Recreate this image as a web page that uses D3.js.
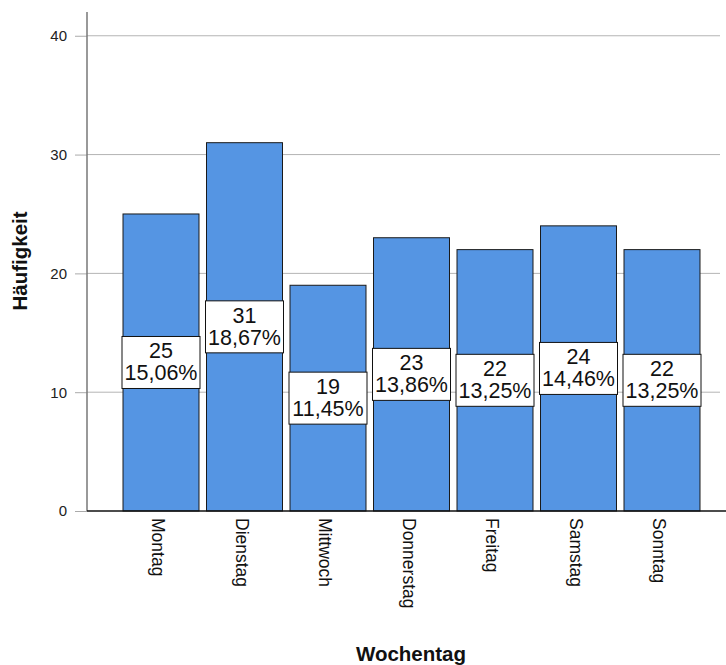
<!DOCTYPE html>
<html>
<head>
<meta charset="utf-8">
<script src="https://cdn.jsdelivr.net/npm/d3@7"></script>
<style>
  body { margin: 0; background: #fff; }
  text { font-family: Arial, "Liberation Sans", sans-serif; }
</style>
</head>
<body>
<svg id="chart" width="726" height="665"></svg>
<script>
// Weekday frequencies
const days = ["Montag", "Dienstag", "Mittwoch", "Donnerstag", "Freitag", "Samstag", "Sonntag"];
const counts = [25, 31, 19, 23, 22, 24, 22];
const percents = ["15,06%", "18,67%", "11,45%", "13,86%", "13,25%", "14,46%", "13,25%"];
const yTicks = [0, 10, 20, 30, 40];

const svg = d3.select("#chart");
const plot = { left: 87, right: 726, top: 12, bottom: 511 };

const x = d3.scaleBand().domain(days).range([119.25, 703.75]).paddingInner(0.09).paddingOuter(0.045);
const y = d3.scaleLinear().domain([0, 42]).range([plot.bottom, plot.top]);

// gridlines
svg.append("g").selectAll("line").data(yTicks.filter(d => d > 0)).join("line")
  .attr("x1", plot.left).attr("x2", 720)
  .attr("y1", d => y(d)).attr("y2", d => y(d))
  .attr("stroke", "#b4b4b4").attr("stroke-width", 1);

// y axis
const yAxis = d3.axisLeft(y).tickValues(yTicks).tickSize(12).tickPadding(8);
const gy = svg.append("g").attr("transform", `translate(${plot.left},0)`).call(yAxis);
gy.select(".domain").remove();
gy.selectAll(".tick line").attr("stroke", "#aaaaaa");
gy.selectAll(".tick text").attr("font-size", 15).attr("fill", "#222")
  .attr("font-family", "Arial, 'Liberation Sans', sans-serif");
svg.append("line").attr("x1", plot.left).attr("x2", plot.left).attr("y1", plot.top).attr("y2", plot.bottom)
  .attr("stroke", "#777").attr("stroke-width", 1.5);

// bars
svg.append("g").selectAll("rect").data(days).join("rect")
  .attr("x", d => x(d)).attr("width", x.bandwidth())
  .attr("y", (d, i) => y(counts[i])).attr("height", (d, i) => y(0) - y(counts[i]))
  .attr("fill", "#5595e3").attr("stroke", "#1a1a1a").attr("stroke-width", 1);

// x axis line
svg.append("line").attr("x1", plot.left).attr("x2", plot.right).attr("y1", plot.bottom).attr("y2", plot.bottom)
  .attr("stroke", "#111").attr("stroke-width", 1.5);

// x category labels, rotated to read downward
const xAxis = d3.axisBottom(x).tickSize(0).tickPadding(0);
const gx = svg.append("g").attr("transform", `translate(0,${plot.bottom})`).call(xAxis);
gx.select(".domain").remove();
gx.selectAll(".tick text")
  .attr("font-size", 17.5).attr("fill", "#111")
  .attr("font-family", "Arial, 'Liberation Sans', sans-serif")
  .attr("text-anchor", "start")
  .attr("dy", null)
  .attr("transform", "translate(0,7) rotate(90)")
  .attr("x", 0).attr("y", 9);

// value labels: count and percentage
const lab = svg.append("g").selectAll("g").data(days).join("g")
  .attr("transform", (d, i) => `translate(${x(d) + x.bandwidth() / 2},${y(counts[i] / 2)})`);
lab.append("rect").attr("x", -39).attr("y", -26).attr("width", 78).attr("height", 52)
  .attr("fill", "#fff").attr("stroke", "#111").attr("stroke-width", 1);
lab.append("text").attr("text-anchor", "middle").attr("y", -4).attr("font-size", 21.5).attr("fill", "#111")
  .text((d, i) => counts[i]);
lab.append("text").attr("text-anchor", "middle").attr("y", 18).attr("font-size", 21.5).attr("fill", "#111")
  .text((d, i) => percents[i]);

// axis titles
svg.append("text").attr("x", 411).attr("y", 661).attr("text-anchor", "middle")
  .attr("font-size", 20.5).attr("font-weight", "bold").attr("fill", "#111").text("Wochentag");
svg.append("text").attr("transform", "translate(27,261) rotate(-90)").attr("text-anchor", "middle")
  .attr("font-size", 20.5).attr("font-weight", "bold").attr("fill", "#111").text("Häufigkeit");
</script>
</body>
</html>
